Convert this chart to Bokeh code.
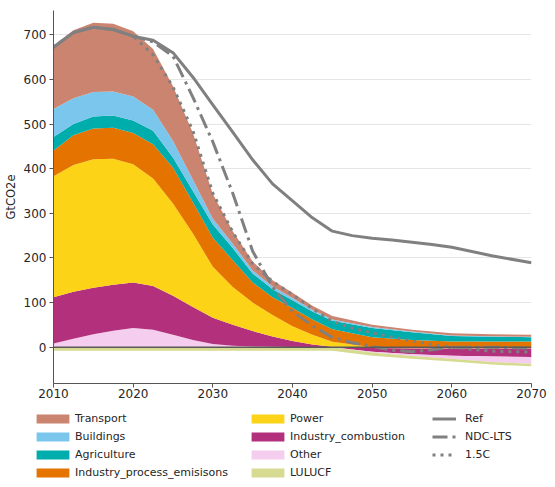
import numpy as np
from bokeh.plotting import figure
from bokeh.layouts import column, row
from bokeh.models import Range1d, Legend, LegendItem, Span, FixedTicker
from bokeh.embed import file_html
from bokeh.resources import INLINE

# ---------------- data ----------------
years = [2010, 2012.5, 2015, 2017.5, 2020, 2022.5, 2025, 2027.5, 2030, 2032.5,
         2035, 2037.5, 2040, 2042.5, 2045, 2050, 2055, 2060, 2065, 2070]

transport = [142, 152, 155, 152, 146, 136, 123, 105, 55, 28, 20, 14, 12, 9, 8, 5, 4, 5, 4.5, 4.5]
buildings = [63, 58, 55, 54, 54, 47, 37, 25, 13, 10, 7, 6, 5, 4, 3, 2, 1.5, 1, 1, 1]
agriculture = [30, 25, 27, 27, 28, 30, 23, 25, 30, 27, 20, 18, 17, 18, 19, 21, 17.5, 12, 10.5, 9.5]
industry_process = [58, 67, 69, 70, 70, 77, 80, 70, 65, 60, 45, 40, 41, 34, 28, 22, 16, 13, 13, 13]
power = [271, 284, 288, 282, 265, 241, 207, 165, 114, 85, 64, 48, 33, 22, 11, -2, -3, -3, -3, -3]
industry_combustion = [104, 105, 104, 103, 102, 98, 87, 74, 59, 47, 34.5, 23, 13.5, 5.8, 1, -8, -13, -16, -18, -19]
other = [8, 19, 29, 37, 43, 39, 28, 16, 7, 3, 1.5, 1, 0.5, 0.2, 0, -2, -4, -7, -12, -15]
lulucf = [-8, -8, -8, -8, -8, -8, -8, -8, -8, -8, -8, -8, -8, -8, -8, -7, -6, -6, -6, -6]

line_years = [2010, 2012.5, 2015, 2017.5, 2020, 2022.5, 2025, 2027.5, 2030, 2032.5, 2035, 2037.5,
              2040, 2042.5, 2045, 2047.5, 2050, 2052.5, 2055, 2057.5, 2060, 2065, 2070]
ref = [672, 705, 717, 712, 697, 688, 660, 605, 543, 482, 420, 366, 328, 290, 260, 250, 244, 240, 235, 230, 224, 205, 189]
ndc_lts = [672, 705, 717, 712, 697, 684, 652, 560, 460, 345, 215, 135, 80, 48, 22, 10, 2, -7, -10, -6, 0, 0, -2]
c15 = [672, 705, 717, 712, 697, 655, 583, 485, 345, 258, 187, 147, 118, 86, 58, 43, 32, 22, 14, 6, 0, -9, -11]

sectors = ["Transport", "Buildings", "Agriculture", "Industry_process_emisisons",
           "Power", "Industry_combustion", "Other", "LULUCF"]
series = [transport, buildings, agriculture, industry_process,
          power, industry_combustion, other, lulucf]
colors = ["#cb8470", "#7bc6ec", "#00adad", "#e57300",
          "#fdd317", "#b3317c", "#f4cdef", "#d7db91"]
gray = "#808080"

# ---------------- main figure ----------------
p = figure(width=547, height=408, output_backend="svg", toolbar_location=None,
           x_range=Range1d(2010, 2070), y_range=Range1d(-81.4, 754.5),
           min_border_left=46, min_border_right=16, min_border_top=10, min_border_bottom=25)
p.outline_line_color = None
p.xgrid.grid_line_color = None
p.ygrid.grid_line_color = "#e6e6e6"
p.ygrid.grid_line_width = 1

x = np.array(years, dtype=float)
pos_base = np.zeros(len(x))
neg_base = np.zeros(len(x))
# positive stack: bottom-up in reverse legend order; negative stack: downward in legend order
for vals, col in zip(reversed(series), reversed(colors)):
    v = np.clip(np.array(vals, dtype=float), 0, None)
    p.varea(x=x, y1=pos_base.copy(), y2=pos_base + v, fill_color=col, fill_alpha=1)
    pos_base = pos_base + v
for vals, col in zip(series, colors):
    v = np.clip(np.array(vals, dtype=float), None, 0)
    p.varea(x=x, y1=neg_base + v, y2=neg_base.copy(), fill_color=col, fill_alpha=1)
    neg_base = neg_base + v

p.add_layout(Span(location=0, dimension="width", line_color="#5a5a5a", line_width=1.5))

p.line(line_years, ref, line_color=gray, line_width=3)
p.line(line_years, ndc_lts, line_color=gray, line_width=3, line_dash="15 5 3 5")
p.line(line_years, c15, line_color=gray, line_width=3, line_dash="3 5")

for ax in (p.xaxis[0], p.yaxis[0]):
    ax.axis_line_color = "#555555"
    ax.major_tick_line_color = "#555555"
    ax.minor_tick_line_color = None
    ax.major_tick_out = 4
    ax.major_tick_in = 0
    ax.major_label_text_font = "DejaVu Sans"
    ax.major_label_text_font_size = "12px"
    ax.major_label_text_color = "#262626"
p.xaxis.major_label_standoff = 1
p.yaxis.major_label_standoff = 3
p.xaxis.ticker = FixedTicker(ticks=[2010, 2020, 2030, 2040, 2050, 2060, 2070])
p.yaxis.ticker = FixedTicker(ticks=[0, 100, 200, 300, 400, 500, 600, 700])
p.yaxis.axis_label = "GtCO2e"
p.yaxis.axis_label_text_font = "DejaVu Sans"
p.yaxis.axis_label_text_font_size = "11.5px"
p.yaxis.axis_label_text_font_style = "normal"
p.yaxis.axis_label_text_color = "#262626"
p.yaxis.axis_label_standoff = 3

# ---------------- legend figure ----------------
lh = 74
q = figure(width=547, height=lh, output_backend="svg", toolbar_location=None,
           x_range=Range1d(0, 547), y_range=Range1d(0, lh),
           x_axis_type=None, y_axis_type=None,
           min_border_left=0, min_border_right=0, min_border_top=0, min_border_bottom=0)
q.grid.visible = False
q.outline_line_color = None

# proxy renderers for the legend (outside the visible range)
hx = [-20, -10]
area_items = []
for name, col in zip(sectors, colors):
    r = q.varea(x=hx, y1=[0, 0], y2=[1, 1], fill_color=col, fill_alpha=1)
    area_items.append(LegendItem(label=name, renderers=[r]))
l_ref = q.line(x=hx, y=[0, 0], line_color=gray, line_width=3)
l_ndc = q.line(x=hx, y=[0, 0], line_color=gray, line_width=3, line_dash="15 5 3 5")
l_15 = q.line(x=hx, y=[0, 0], line_color=gray, line_width=3, line_dash="3 5")
line_items = [LegendItem(label="Ref", renderers=[l_ref]),
              LegendItem(label="NDC-LTS", renderers=[l_ndc]),
              LegendItem(label="1.5C", renderers=[l_15])]


def add_legend(items, xloc, yloc, gw, standoff):
    lg = Legend(items=items, location=(xloc, yloc), orientation="vertical",
                glyph_width=gw, glyph_height=11, label_height=14, spacing=4,
                padding=0, margin=0, label_standoff=standoff,
                label_text_font="DejaVu Sans", label_text_font_size="11px",
                label_text_color="#262626",
                border_line_alpha=0, background_fill_alpha=0)
    q.add_layout(lg, "center")


add_legend(area_items[:4], 32, 3, 41, 2)
add_legend(area_items[4:], 247, 3, 41, 2)
add_legend(line_items, 432, 21, 24, 9)

layout = column(p, row(q), spacing=0)
open("out.html", "w").write(file_html(layout, INLINE))
